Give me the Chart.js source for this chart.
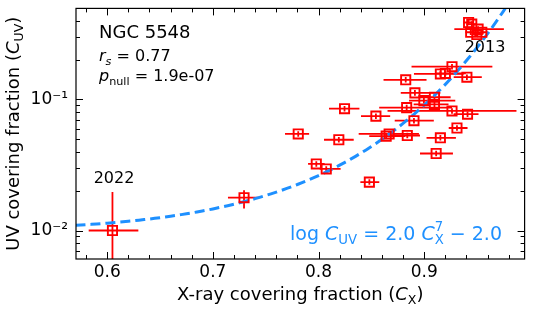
<!DOCTYPE html>
<html>
<head>
<meta charset="utf-8">
<script src="https://cdn.jsdelivr.net/npm/chart.js@4/dist/chart.umd.min.js"></script>
<style>
  html, body { margin: 0; padding: 0; background: #fff; }
</style>
</head>
<body>
<canvas id="chart" width="533" height="310"></canvas>
<script>
// X-ray covering fraction (C_X) per epoch
const cxValues = [0.605, 0.7295, 0.7808, 0.8246, 0.8192, 0.7979, 0.8073, 0.8481, 0.8543, 0.8668, 0.8640,
    0.884, 0.8825, 0.8912, 0.8834, 0.8903, 0.8997, 0.9097, 0.9097, 0.9263, 0.9153, 0.92, 0.9404,
    0.9263, 0.941, 0.931, 0.9153, 0.9113, 0.942, 0.945, 0.951, 0.944, 0.9545, 0.9498];
const cxLow = [0.5825, 0.7143, 0.7683, 0.8099, 0.8052, 0.7901, 0.8011, 0.8396, 0.8402, 0.838, 0.848,
    0.8653, 0.8615, 0.8778, 0.8574, 0.8721, 0.8856, 0.895, 0.890, 0.888, 0.8903, 0.9113, 0.9279,
    0.8653, 0.9279, 0.9232, 0.9022, 0.896, 0.937, 0.940, 0.9285, 0.939, 0.949, 0.945];
const cxHigh = [0.6295, 0.7438, 0.7911, 0.8387, 0.8333, 0.8058, 0.8209, 0.8575, 0.8678, 0.895, 0.882,
    0.896, 0.9022, 0.9153, 0.9263, 0.9091, 0.9294, 0.925, 0.923, 0.9645, 0.9373, 0.9394, 0.9545,
    0.9873, 0.9514, 0.941, 0.930, 0.9272, 0.947, 0.950, 0.9754, 0.949, 0.960, 0.955];

// UV covering fraction (C_UV) per epoch
const cuvValues = [0.0100, 0.0178, 0.0546, 0.0851, 0.0493, 0.0322, 0.0295, 0.0234, 0.0746, 0.0546, 0.0525,
    0.0531, 0.1413, 0.1123, 0.0867, 0.0689, 0.098, 0.104, 0.0917, 0.178, 0.1567, 0.158, 0.148,
    0.0818, 0.0772, 0.0606, 0.051, 0.0387, 0.387, 0.376, 0.345, 0.326, 0.326, 0.313];
const cuvLow = [0.004, 0.0147, 0.0520, 0.0810, 0.0469, 0.0306, 0.0281, 0.0223, 0.0710, 0.0520, 0.0500,
    0.0506, 0.1346, 0.1070, 0.0826, 0.0656, 0.0933, 0.0990, 0.0873, 0.1695, 0.1492, 0.1505, 0.1410,
    0.0779, 0.0735, 0.0577, 0.0486, 0.0369, 0.369, 0.358, 0.329, 0.310, 0.310, 0.298];
const cuvHigh = [0.0197, 0.0203, 0.0573, 0.0893, 0.0518, 0.0338, 0.0310, 0.0246, 0.0783, 0.0573, 0.0551,
    0.0558, 0.1484, 0.1179, 0.0910, 0.0723, 0.1029, 0.1092, 0.0963, 0.1869, 0.1645, 0.1659, 0.1554,
    0.0859, 0.0811, 0.0636, 0.0536, 0.0406, 0.406, 0.395, 0.362, 0.342, 0.342, 0.329];

// fit: log C_UV = 2.0 C_X^7 - 2.0
const fitScale = 2.0;
const fitPower = 7;
const fitOffset = -2.0;
const fitX = [];
for (let v = 0.57; v <= 1.0; v += 0.005) fitX.push(v);

// ticks
const xTickValues = [0.6, 0.7, 0.8, 0.9];
const xMinorTicks = [0.58, 0.62, 0.64, 0.66, 0.68, 0.72, 0.74, 0.76, 0.78, 0.82, 0.84, 0.86, 0.88, 0.92, 0.94, 0.96, 0.98];
const yTickValues = [0.01, 0.1];
const yTickLabels = ['10\u207B\u00B2', '10\u207B\u00B9'];
const yMinorTicks = [0.007, 0.008, 0.009, 0.02, 0.03, 0.04, 0.05, 0.06, 0.07, 0.08, 0.09, 0.2, 0.3, 0.4];

const red = '#ff0000';
const blue = '#1e90ff';
const FONT = '"DejaVu Sans"';
Chart.defaults.font.family = FONT;

// テキスト描画（斜体・下付き・上付きの混在）
function partFont(p, size) {
    const s = (p.sub || p.sup) ? size * 0.7 : size;
    return (p.it ? 'italic ' : '') + s + 'px ' + FONT;
}
function partWidth(ctx, p, size) {
    ctx.font = partFont(p, size);
    let w = ctx.measureText(p.t).width;
    if (p.supStack) {
        ctx.font = (size * 0.7) + 'px ' + FONT;
        w = Math.max(w, ctx.measureText(p.supStack).width);
    }
    return w;
}
function drawRich(ctx, parts, x, y, size, align, color) {
    let total = 0;
    parts.forEach(p => total += partWidth(ctx, p, size));
    let cx = align === 'center' ? x - total / 2 : align === 'right' ? x - total : x;
    ctx.fillStyle = color;
    ctx.textAlign = 'left';
    ctx.textBaseline = 'alphabetic';
    parts.forEach(p => {
        const w = partWidth(ctx, p, size);
        ctx.font = partFont(p, size);
        let dy = 0;
        if (p.sub) dy = size * 0.22;
        if (p.sup) dy = -size * 0.42;
        ctx.fillText(p.t, cx, y + dy);
        if (p.supStack) {
            ctx.font = (size * 0.7) + 'px ' + FONT;
            ctx.fillText(p.supStack, cx, y - size * 0.45);
        }
        cx += w;
    });
}

const decorations = {
    id: 'decorations',
    beforeDatasetsDraw(chart) {
        const { ctx, chartArea: a, scales: { x, y } } = chart;
        ctx.save();
        ctx.beginPath();
        ctx.rect(a.left, a.top, a.right - a.left, a.bottom - a.top);
        ctx.clip();
        ctx.strokeStyle = red;
        ctx.lineWidth = 1.8;
        for (let i = 0; i < cxValues.length; i++) {
            const px = x.getPixelForValue(cxValues[i]);
            const py = y.getPixelForValue(cuvValues[i]);
            ctx.beginPath();
            ctx.moveTo(x.getPixelForValue(cxLow[i]), py);
            ctx.lineTo(x.getPixelForValue(cxHigh[i]), py);
            ctx.moveTo(px, y.getPixelForValue(cuvLow[i]));
            ctx.lineTo(px, y.getPixelForValue(cuvHigh[i]));
            ctx.stroke();
        }
        ctx.restore();
    },
    afterDraw(chart) {
        const { ctx, chartArea: a, scales: { x, y } } = chart;
        ctx.save();
        // 枠
        ctx.strokeStyle = '#000';
        ctx.lineWidth = 1.2;
        ctx.strokeRect(a.left, a.top, a.right - a.left, a.bottom - a.top);
        // 目盛り（内向き、四辺）
        ctx.lineWidth = 1;
        ctx.beginPath();
        const xt = (v, len) => {
            const p = Math.round(x.getPixelForValue(v)) + 0.5;
            ctx.moveTo(p, a.bottom); ctx.lineTo(p, a.bottom - len);
            ctx.moveTo(p, a.top); ctx.lineTo(p, a.top + len);
        };
        const yt = (v, len) => {
            const p = Math.round(y.getPixelForValue(v)) + 0.5;
            ctx.moveTo(a.left, p); ctx.lineTo(a.left + len, p);
            ctx.moveTo(a.right, p); ctx.lineTo(a.right - len, p);
        };
        xTickValues.forEach(v => xt(v, 7));
        xMinorTicks.forEach(v => xt(v, 4));
        yTickValues.forEach(v => yt(v, 7));
        yMinorTicks.forEach(v => yt(v, 4));
        ctx.stroke();

        // 軸タイトル
        drawRich(ctx, [{ t: 'X-ray covering fraction (' }, { t: 'C', it: true }, { t: 'X', sub: true }, { t: ')' }],
            (a.left + a.right) / 2, 300, 18, 'center', '#000');
        ctx.save();
        ctx.translate(19, (a.top + a.bottom) / 2);
        ctx.rotate(-Math.PI / 2);
        drawRich(ctx, [{ t: 'UV covering fraction (' }, { t: 'C', it: true }, { t: 'UV', sub: true }, { t: ')' }],
            0, 0, 18, 'center', '#000');
        ctx.restore();

        // 注記
        drawRich(ctx, [{ t: 'NGC 5548' }], 99, 38, 18, 'left', '#000');
        drawRich(ctx, [{ t: 'r', it: true }, { t: 's', it: true, sub: true }, { t: ' = 0.77' }], 99, 61, 16, 'left', '#000');
        drawRich(ctx, [{ t: 'p', it: true }, { t: 'null', sub: true }, { t: ' = 1.9e-07' }], 99, 81, 16, 'left', '#000');
        drawRich(ctx, [{ t: '2013' }], 485, 52, 16, 'center', '#000');
        drawRich(ctx, [{ t: '2022' }], 114, 183, 16, 'center', '#000');
        drawRich(ctx, [{ t: 'log ' }, { t: 'C', it: true }, { t: 'UV', sub: true }, { t: ' = 2.0 ' },
            { t: 'C', it: true }, { t: 'X', sub: true, supStack: '7' }, { t: ' \u2212 2.0' }],
            502, 240, 19, 'right', blue);
        ctx.restore();
    }
};

new Chart(document.getElementById('chart'), {
    type: 'scatter',
    data: {
        datasets: [
            {
                data: cxValues.map((v, i) => ({ x: v, y: cuvValues[i] })),
                pointStyle: 'rect',
                pointRadius: 6.5,
                borderColor: red,
                backgroundColor: 'rgba(0,0,0,0)',
                borderWidth: 1.9,
                order: 0
            },
            {
                data: fitX.map(v => ({ x: v, y: Math.pow(10, fitScale * Math.pow(v, fitPower) + fitOffset) })),
                showLine: true,
                pointRadius: 0,
                borderColor: blue,
                borderWidth: 3,
                borderDash: [10, 5],
                fill: false,
                order: 1
            }
        ]
    },
    options: {
        responsive: false,
        animation: false,
        layout: { padding: { left: 0, right: 5, top: 4, bottom: 0 } },
        plugins: { legend: { display: false }, tooltip: { enabled: false } },
        scales: {
            x: {
                type: 'linear',
                min: 0.5705,
                max: 0.995,
                grid: { display: false, drawTicks: false },
                border: { display: false },
                ticks: { color: '#000', font: { size: 17 }, padding: 3, callback: v => v.toFixed(1) },
                afterBuildTicks: s => { s.ticks = xTickValues.map(v => ({ value: v })); },
                afterFit: s => { s.height = 51; s.paddingLeft = 0; s.paddingRight = 0; }
            },
            y: {
                type: 'logarithmic',
                min: 0.00606,
                max: 0.4958,
                grid: { display: false, drawTicks: false },
                border: { display: false },
                ticks: { color: '#000', font: { size: 17 }, padding: 8,
                    callback: v => yTickLabels[yTickValues.indexOf(v)] ?? '' },
                afterBuildTicks: s => { s.ticks = yTickValues.map(v => ({ value: v })); },
                afterFit: s => { s.width = 76; s.paddingTop = 0; s.paddingBottom = 0; }
            }
        }
    },
    plugins: [decorations]
});
</script>
</body>
</html>
